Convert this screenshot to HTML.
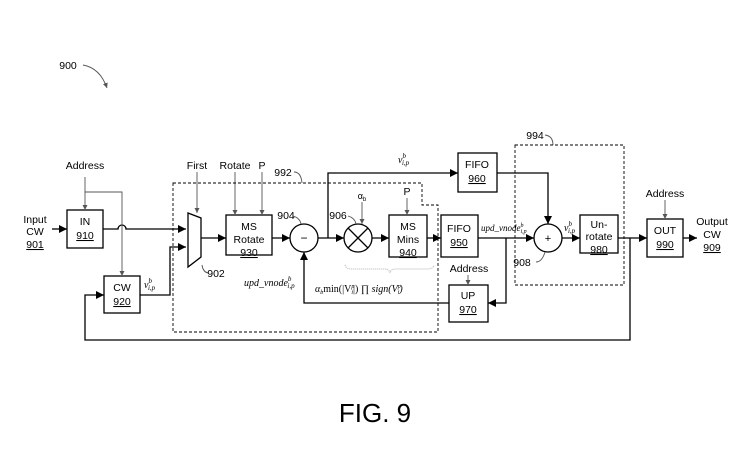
<!DOCTYPE html>
<html><head><meta charset="utf-8"><style>
html,body{margin:0;padding:0;background:#fff;}
svg{display:block;font-family:"Liberation Sans",sans-serif;}
</style></head><body>
<svg width="744" height="453" viewBox="0 0 744 453" xmlns="http://www.w3.org/2000/svg">
<defs>
<marker id="a" viewBox="0 0 10 10" refX="10" refY="5" markerWidth="8" markerHeight="8" markerUnits="userSpaceOnUse" orient="auto"><path d="M0,0L10,5L0,10z" fill="#000"/></marker>
<marker id="s" viewBox="0 0 10 10" refX="10" refY="5" markerWidth="5" markerHeight="5" markerUnits="userSpaceOnUse" orient="auto"><path d="M0,0L10,5L0,10z" fill="#555"/></marker>
</defs>
<g fill="none" stroke="#000" stroke-width="1.3">
<rect x="67" y="210" width="36" height="38"/>
<rect x="104" y="276" width="36" height="37"/>
<rect x="226" y="215" width="46" height="40"/>
<rect x="389" y="215" width="38" height="42"/>
<rect x="441" y="215" width="37" height="42"/>
<rect x="458" y="153" width="39" height="39"/>
<rect x="449" y="285" width="39" height="37"/>
<rect x="580" y="215" width="38" height="38"/>
<rect x="647" y="219" width="36" height="38"/>
<path d="M188,213 L201,218 L201,257 L188,267 Z"/>
<circle cx="304" cy="238" r="14"/>
<circle cx="358" cy="238" r="14"/>
<circle cx="548" cy="238" r="14"/>
<path d="M348,228 L368,248 M368,228 L348,248"/>
<path d="M52,229 H67" marker-end="url(#a)"/>
<path d="M103,229 H118 A4,4 0 0 1 126,229 H186" marker-end="url(#a)"/>
<path d="M140,295 H170 V247 H186" marker-end="url(#a)"/>
<path d="M201,238 H226" marker-end="url(#a)"/>
<path d="M272,238 H290" marker-end="url(#a)"/>
<path d="M318,238 H344" marker-end="url(#a)"/>
<path d="M372,238 H389" marker-end="url(#a)"/>
<path d="M427,238 H441" marker-end="url(#a)"/>
<path d="M328,238 V173 H458" marker-end="url(#a)"/>
<path d="M497,173 H548 V224" marker-end="url(#a)"/>
<path d="M478,238 H534" marker-end="url(#a)"/>
<path d="M506,238 V303 H488" marker-end="url(#a)"/>
<path d="M449,303 H304 V252" marker-end="url(#a)"/>
<path d="M562,238 H580" marker-end="url(#a)"/>
<path d="M618,238 H647" marker-end="url(#a)"/>
<path d="M683,238 H697" marker-end="url(#a)"/>
<path d="M630,238 V340 H85 V295 H104" marker-end="url(#a)"/>
</g>
<g fill="none" stroke="#555" stroke-width="0.9">
<path d="M85,177 V210" marker-end="url(#s)"/>
<path d="M85,192 H122 V276" marker-end="url(#s)"/>
<path d="M197,172 V213" marker-end="url(#s)"/>
<path d="M235,172 V215" marker-end="url(#s)"/>
<path d="M262,172 V215" marker-end="url(#s)"/>
<path d="M407,198 V215" marker-end="url(#s)"/>
<path d="M468,275 V285" marker-end="url(#s)"/>
<path d="M665,200 V219" marker-end="url(#s)"/>
<path d="M362,202 V224" marker-end="url(#s)"/>
<path d="M83,65 Q100,68 107,88" marker-end="url(#s)"/>
<path d="M293,216 Q300,218 301,224"/>
<path d="M348,216 Q355,218 356,224"/>
<path d="M202,265 Q203,272 208,273"/>
<path d="M536,262 Q542,262 545,252"/>
<path d="M294,172 Q301,172 302,183"/>
<path d="M545,135 Q553,136 553,145"/>
</g>
<g fill="none" stroke="#000" stroke-width="0.9" stroke-dasharray="3,2">
<path d="M173,183 H422 V205 H438 V332 H173 Z"/>
<rect x="515" y="145" width="109" height="140"/>
</g>
<path d="M345,265 Q346,269 352,269 H385 Q389,269 390,273 Q391,269 395,269 H428 Q433,269 434,265" fill="none" stroke="#999" stroke-width="0.8" stroke-dasharray="1,1"/>
<g font-size="10.5" text-anchor="middle" fill="#000">
<text x="85" y="169">Address</text>
<text x="35" y="223">Input</text>
<text x="35" y="235">CW</text>
<text x="35" y="248" text-decoration="underline">901</text>
<text x="85" y="225">IN</text>
<text x="85" y="239" text-decoration="underline">910</text>
<text x="122" y="291">CW</text>
<text x="122" y="305" text-decoration="underline">920</text>
<text x="197" y="169">First</text>
<text x="235" y="169">Rotate</text>
<text x="262" y="169">P</text>
<text x="249" y="230">MS</text>
<text x="249" y="243">Rotate</text>
<text x="249" y="256" text-decoration="underline">930</text>
<text x="408" y="230">MS</text>
<text x="408" y="243">Mins</text>
<text x="408" y="256" text-decoration="underline">940</text>
<text x="407" y="195">P</text>
<text x="459" y="232">FIFO</text>
<text x="459" y="246" text-decoration="underline">950</text>
<text x="477" y="168">FIFO</text>
<text x="477" y="182" text-decoration="underline">960</text>
<text x="468" y="299">UP</text>
<text x="468" y="313" text-decoration="underline">970</text>
<text x="469" y="272">Address</text>
<text x="599" y="228">Un-</text>
<text x="599" y="240">rotate</text>
<text x="599" y="253" text-decoration="underline">980</text>
<text x="665" y="234">OUT</text>
<text x="665" y="248" text-decoration="underline">990</text>
<text x="665" y="197">Address</text>
<text x="712" y="225">Output</text>
<text x="712" y="238">CW</text>
<text x="712" y="251" text-decoration="underline">909</text>
<text x="68" y="69">900</text>
<text x="283" y="176">992</text>
<text x="535" y="139">994</text>
<text x="286" y="219">904</text>
<text x="338" y="219">906</text>
<text x="216" y="277">902</text>
<text x="522" y="266">908</text>
<text x="304" y="242" font-size="12">−</text>
<text x="548" y="242" font-size="11">+</text>
<text x="362" y="199" font-size="9">α<tspan font-size="6" dy="2">b</tspan></text>
</g>
<g font-family="Liberation Serif,serif" font-style="italic" font-size="10" fill="#000">
<text x="144" y="288">v<tspan font-size="7" dy="-5">b</tspan><tspan font-size="7" dx="-4" dy="7">i,p</tspan></text>
<text x="398" y="163">v<tspan font-size="7" dy="-5">b</tspan><tspan font-size="7" dx="-4" dy="7">i,p</tspan></text>
<text x="564" y="231">v<tspan font-size="7" dy="-5">b</tspan><tspan font-size="7" dx="-4" dy="7">i,p</tspan></text>
<text x="244" y="286">upd_vnode<tspan font-size="7" dy="-5">b</tspan><tspan font-size="7" dx="-4" dy="7">i,p</tspan></text>
<text x="481" y="231" font-size="9">upd_vnode<tspan font-size="6" dy="-4">b</tspan><tspan font-size="6" dx="-3" dy="6">i,p</tspan></text>
<text x="315" y="292">α<tspan font-size="6" dy="2">b</tspan><tspan dy="-2" font-style="normal">min(|V</tspan><tspan font-size="6" dy="-4">p</tspan><tspan font-size="6" dx="-3" dy="6">i</tspan><tspan dy="-2" font-style="normal">|) ∏ </tspan>sign(V<tspan font-size="6" dy="-4">p</tspan><tspan font-size="6" dx="-3" dy="6">i</tspan><tspan dy="-2">)</tspan></text>
</g>
<text x="375" y="422" font-size="26" text-anchor="middle" fill="#000">FIG. 9</text>
</svg>
</body></html>
